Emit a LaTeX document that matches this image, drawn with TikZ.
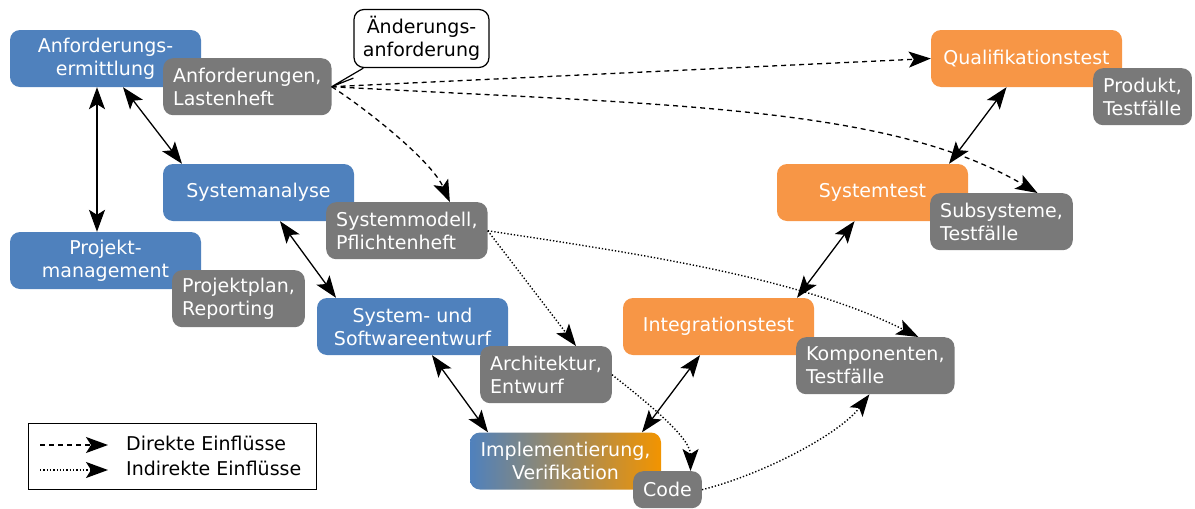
\documentclass[tikz,border=0pt]{standalone}
\usepackage{fontspec}
\setmainfont{DejaVu Sans}
\usetikzlibrary{arrows.meta}

\definecolor{phaseblue}{HTML}{4F81BD}
\definecolor{phaseorange}{HTML}{F79646}
\definecolor{implorange}{HTML}{F29400}
\definecolor{docgray}{HTML}{797979}

\tikzset{vtip/.tip={Stealth[length=22pt, width=16pt, inset=5pt]}}

\begin{document}
\begin{tikzpicture}[x=1pt, y=-1pt,
  font=\fontsize{19}{23}\selectfont,
  phase/.style={rounded corners=10pt, minimum width=191pt, minimum height=57pt,
    align=center, text=white, inner sep=0pt},
  bluephase/.style={phase, fill=phaseblue},
  testphase/.style={phase, fill=phaseorange},
  doc/.style={rounded corners=10pt, fill=docgray, text=white, align=left,
    minimum height=57pt, inner xsep=10pt, inner ysep=0pt, anchor=north west},
  flow/.style={vtip-vtip, line width=1.3pt},
  direct/.style={-vtip, line width=1.3pt, dash pattern=on 5pt off 4pt},
  indirect/.style={-vtip, line width=1.4pt, dash pattern=on 1.3pt off 2pt},
]
\useasboundingbox (0,0) rectangle (1195,509);

% development phases (left branch)
\node[bluephase] (req)  at (105.5,58.5)  {Anforderungs-\\ermittlung};
\node[bluephase] (ana)  at (258.5,192.5) {Systemanalyse};
\node[bluephase] (pm)   at (105.5,260.5) {Projekt-\\management};
\node[bluephase] (des)  at (412.5,326.5) {System- und\\Softwareentwurf};
\node[phase, left color=phaseblue, right color=implorange] (impl) at (565.5,461)
  {Implementierung,\\Verifikation};

% test phases (right branch)
\node[testphase] (integ) at (718.5,326.5) {Integrationstest};
\node[testphase] (sys)   at (872.5,192.5) {Systemtest};
\node[testphase] (qual)  at (1026.5,58.5) {Qualifikationstest};

% work products
\node[doc] (spec)  at (163,58)  {Anforderungen,\\Lastenheft};
\node[doc] (model) at (326,202) {Systemmodell,\\Pflichtenheft};
\node[doc] (plan)  at (172,270) {Projektplan,\\Reporting};
\node[doc] (arch)  at (480,346) {Architektur,\\Entwurf};
\node[doc, minimum height=37pt] (code) at (633,471) {Code};
\node[doc] (comp)  at (796,337) {Komponenten,\\Testfälle};
\node[doc] (subs)  at (930,193) {Subsysteme,\\Testfälle};
\node[doc] (prod)  at (1093,68) {Produkt,\\Testfälle};

% change request callout
\node[draw, line width=1.2pt, fill=white, rounded corners=10pt, align=center,
  minimum width=135pt, minimum height=58pt, inner sep=0pt] (chg) at (421.5,38.5)
  {Änderungs-\\anforderung};
\coordinate (chgA) at ([yshift=-10pt]chg.south west);
\coordinate (chgB) at ([xshift=10pt]chg.south west);
\fill[white] (chgA) -- (spec.east) -- (chgB) -- cycle;
\draw[line width=1.2pt] (chgA) -- (spec.east) -- (chgB);

% phase transitions
\draw[flow] ([xshift=-8.5pt]req.south) -- ([xshift=-8.5pt]pm.north);
\draw[flow] ([xshift=17.5pt]req.south) -- ([xshift=-76.5pt]ana.north);
\draw[flow] ([xshift=21.5pt]ana.south) -- ([xshift=-76.5pt]des.north);
\draw[flow] ([xshift=19.5pt]des.south) -- ([xshift=-77.5pt]impl.north);
\draw[flow] ([xshift=76.5pt]impl.north) -- ([xshift=-18.5pt]integ.south);
\draw[flow] ([xshift=78.5pt]integ.north) -- ([xshift=-18pt]sys.south);
\draw[flow] ([xshift=76.5pt]sys.north) -- ([xshift=-20pt]qual.south);

% direct influences
\draw[direct] (spec.east) -- (qual.west);
\draw[direct] (spec.east) .. controls +(330,18) and +(-150,-88) .. ([xshift=36pt]subs.north);
\draw[direct] (spec.east) .. controls +(40,26) and +(-18,-40) .. ([xshift=43pt]model.north);

% indirect influences
\draw[indirect] (model.east) .. controls +(150,23) and +(-120,-60) .. ([xshift=43pt]comp.north);
\draw[indirect] (model.east) -- ([xshift=30pt]arch.north);
\draw[indirect] (arch.east) .. controls +(25,20) and +(0,-35) .. ([xshift=23pt]code.north);
\draw[indirect] (code.east) .. controls +(60,-15) and +(-30,40) .. ([xshift=-6pt]comp.south);

% legend
\node[draw, line width=1.2pt, minimum width=288pt, minimum height=66pt, inner sep=0pt,
  anchor=north west] (legend) at (28,423) {};
\coordinate (l1a) at (40,445);
\coordinate (l1b) at (108,445);
\coordinate (l2a) at (40,470);
\coordinate (l2b) at (108,470);
\draw[direct] (l1a) -- (l1b);
\draw[indirect] (l2a) -- (l2b);
\node[anchor=west, inner sep=0pt] (l1t) at (126,443) {Direkte Einflüsse};
\node[anchor=west, inner sep=0pt] (l2t) at (126,468) {Indirekte Einflüsse};
\end{tikzpicture}
\end{document}
